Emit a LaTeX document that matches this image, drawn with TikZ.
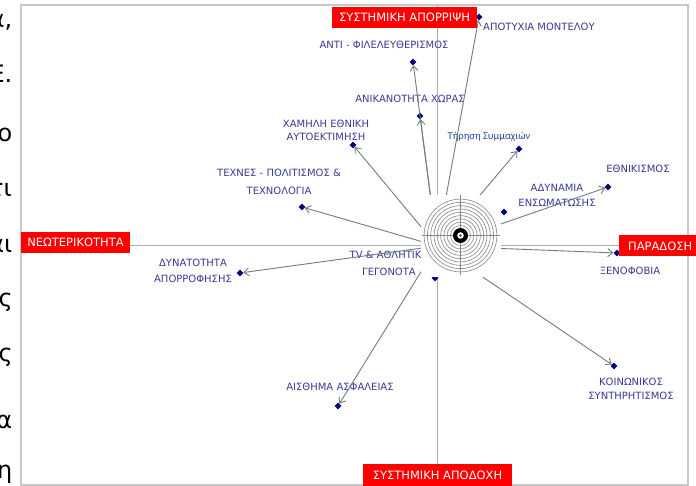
\documentclass[tikz,border=0pt]{standalone}
\usepackage{fontspec}
\setmainfont{DejaVu Sans}
\newfontfamily\calib{Carlito}
\usetikzlibrary{shapes.geometric,arrows.meta}
\definecolor{labcol}{RGB}{58,58,150}
\definecolor{tircol}{RGB}{40,75,165}
\definecolor{mkcol}{RGB}{0,0,128}
\definecolor{arrcol}{RGB}{110,125,125}
\definecolor{framecol}{RGB}{200,200,200}
\definecolor{axiscol}{RGB}{175,175,175}
\definecolor{ringcol}{RGB}{135,135,135}
\begin{document}
\begin{tikzpicture}[x=1pt,y=-1pt,
  frag/.style={anchor=base east, inner sep=0pt, font=\fontsize{24}{24}\selectfont},
  mk/.style={diamond, fill=mkcol, minimum size=7pt, inner sep=0pt},
  arr/.style={arrcol, line width=0.9pt, -{Straight Barb[length=5pt,width=8pt]}},
  lab/.style={text=labcol, inner sep=0pt, align=center, font=\fontsize{10}{13}\selectfont},
  redbox/.style={fill=red, text=white, inner sep=0pt, minimum height=21pt, font=\fontsize{11.5}{12}\selectfont},
  ring/.style={ringcol, line width=0.6pt}]
\useasboundingbox (0,0) rectangle (696,486);
\clip (0,0) rectangle (696,486);
\fill[white] (0,0) rectangle (696,486);

% fragments of the body text at the left edge
\node[frag] (f1) at (12.5,28) {ά,};
\node[frag] (f2) at (12.5,83) {Ε.};
\node[frag] (f3) at (12.5,142) {ο};
\node[frag] (f4) at (12,197) {τι};
\node[frag] (f5) at (12.5,253) {αι};
\node[frag] (f6) at (13,306) {ς};
\node[frag] (f7) at (13,361) {ς};
\node[frag] (f8) at (12.5,428) {α};
\node[frag] (f9) at (12.5,478) {η};

% frame and axes
\draw[framecol, line width=1.5pt] (21,5) rectangle (688,485);
\draw[axiscol, line width=1pt] (21,246) -- (688,246);
\draw[axiscol, line width=1pt] (437,5) -- (437,485);
\coordinate (O) at (437,246);

% labels
\node[lab] (l-anti) at (384,45) {ΑΝΤΙ - ΦΙΛΕΛΕΥΘΕΡΙΣΜΟΣ};
\node[lab] (l-anik) at (410,99) {ΑΝΙΚΑΝΟΤΗΤΑ ΧΩΡΑΣ};
\node[lab] (l-xam) at (326,130.5) {ΧΑΜΗΛΗ ΕΘΝΙΚΗ\\ΑΥΤΟΕΚΤΙΜΗΣΗ};
\node[lab] (l-tex) at (279,182) {ΤΕΧΝΕΣ - ΠΟΛΙΤΙΣΜΟΣ \&\\[5pt]ΤΕΧΝΟΛΟΓΙΑ};
\node[lab, anchor=west] (l-apot) at (483,27) {ΑΠΟΤΥΧΙΑ ΜΟΝΤΕΛΟΥ};
\node[lab, text=tircol, font=\calib\fontsize{10.5}{12}\selectfont] (l-tir) at (489,137) {Τήρηση Συμμαχιών};
\node[lab] (l-ethn) at (638,169) {ΕΘΝΙΚΙΣΜΟΣ};
\node[lab, font=\fontsize{10}{15}\selectfont] (l-adyn) at (557,195.5) {ΑΔΥΝΑΜΙΑ\\ΕΝΣΩΜΑΤΩΣΗΣ};
\node[lab] (l-xen) at (630,271) {ΞΕΝΟΦΟΒΙΑ};
\node[lab, font=\fontsize{10}{14}\selectfont] (l-koin) at (631,389) {ΚΟΙΝΩΝΙΚΟΣ\\ΣΥΝΤΗΡΗΤΙΣΜΟΣ};
\node[lab] (l-ais) at (340,387) {ΑΙΣΘΗΜΑ ΑΣΦΑΛΕΙΑΣ};
\node[lab, font=\fontsize{10}{16}\selectfont] (l-dyn) at (193,271) {ΔΥΝΑΤΟΤΗΤΑ\\ΑΠΟΡΡΟΦΗΣΗΣ};
\node[lab, font=\fontsize{10}{17}\selectfont] (l-tv) at (389,263.5) {TV \& ΑΘΛΗΤΙΚΑ\\ΓΕΓΟΝΟΤΑ};

% markers
\node[mk] (d-anti) at (413,62) {};
\node[mk] (d-anik) at (420,116) {};
\node[mk] (d-xam) at (353,145) {};
\node[mk] (d-tex) at (302,207) {};
\node[mk] (d-apot) at (479,17) {};
\node[mk] (d-tir) at (519,149) {};
\node[mk] (d-ethn) at (608,187) {};
\node[mk] (d-adyn) at (504,212) {};
\node[mk] (d-xen) at (617,253) {};
\node[mk] (d-koin) at (614,366) {};
\node[mk] (d-ais) at (338,406) {};
\node[mk] (d-dyn) at (240,273) {};
\node[mk] (d-tv) at (435,278) {};

% arrows from the origin
\foreach \t in {anti,anik,xam,tex,apot,tir,ethn,xen,koin,ais,dyn}
  \draw[arr] (O) -- (d-\t);

% target
\fill[white] (421,195) rectangle (501,277);
\coordinate (T) at (460.5,235.5);
\foreach \r in {10,13.3,16.6,19.9,23.2,26.5,29.8,33.1,36.4}
  \draw[ring] (T) circle[radius=\r pt];
\draw[ring] ([xshift=-39pt]T) -- ([xshift=39pt]T);
\draw[ring] ([yshift=-40pt]T) -- ([yshift=40pt]T);
\fill[black] (T) circle[radius=7.5pt];
\fill[white] (T) circle[radius=3.3pt];
\fill[black!70] (T) circle[radius=1.3pt];

% red axis labels
\node[redbox, minimum width=145pt] (r-top) at (404.5,17.5) {ΣΥΣΤΗΜΙΚΗ ΑΠΟΡΡΙΨΗ};
\node[redbox, minimum width=109pt] (r-left) at (75.5,242.5) {ΝΕΩΤΕΡΙΚΟΤΗΤΑ};
\node[redbox, minimum width=82pt, anchor=west] (r-right) at (619,246) {ΠΑΡΑΔΟΣΗ};
\node[redbox, minimum width=149pt, minimum height=22pt] (r-bot) at (437.5,475) {ΣΥΣΤΗΜΙΚΗ ΑΠΟΔΟΧΗ};
\end{tikzpicture}
\end{document}
